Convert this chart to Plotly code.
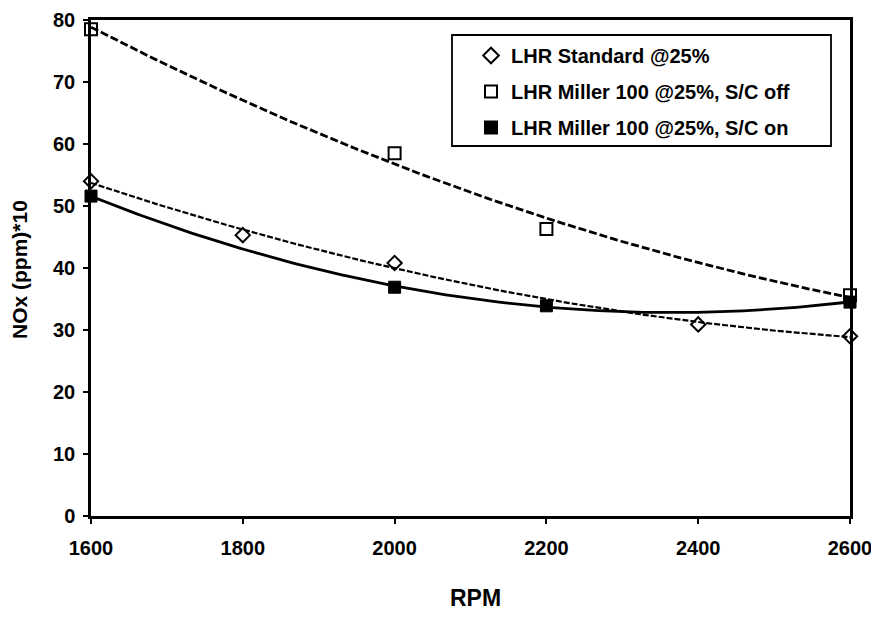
import numpy as np
import plotly.graph_objects as go

# Data
rpm_std = [1600, 1800, 2000, 2400, 2600]
nox_std = [54.0, 45.3, 40.8, 30.9, 29.0]

rpm_off = [1600, 2000, 2200, 2600]
nox_off = [78.5, 58.5, 46.3, 35.6]

rpm_on = [1600, 2000, 2200, 2600]
nox_on = [51.6, 36.9, 33.9, 34.5]

names = ["LHR Standard @25%", "LHR Miller 100 @25%, S/C off", "LHR Miller 100 @25%, S/C on"]
x_ticks = [1600, 1800, 2000, 2200, 2400, 2600]
y_ticks = [0, 10, 20, 30, 40, 50, 60, 70, 80]

fig = go.Figure()

# 2nd-order polynomial trend lines (as in the original spreadsheet chart)
xs = np.linspace(1600, 2600, 200)
for xd, yd, dash, w in [(rpm_off, nox_off, "8px,3px", 2.8),
                        (rpm_std, nox_std, "6px,2px", 2.2),
                        (rpm_on, nox_on, "solid", 2.8)]:
    c = np.polyfit(xd, yd, 2)
    fig.add_trace(go.Scatter(x=xs, y=np.polyval(c, xs), mode="lines",
                             line=dict(color="black", width=w, dash=dash),
                             showlegend=False, hoverinfo="skip", cliponaxis=False))

fig.add_trace(go.Scatter(x=rpm_std, y=nox_std, mode="markers", name=names[0],
                         legendgroup="a", cliponaxis=False,
                         marker=dict(symbol="diamond-open", size=11, color="black",
                                     line=dict(width=2, color="black"))))
fig.add_trace(go.Scatter(x=rpm_off, y=nox_off, mode="markers", name=names[1],
                         legendgroup="b", cliponaxis=False,
                         marker=dict(symbol="square-open", size=12, color="black",
                                     line=dict(width=2, color="black"))))
fig.add_trace(go.Scatter(x=rpm_on, y=nox_on, mode="markers", name=names[2],
                         legendgroup="c", cliponaxis=False,
                         marker=dict(symbol="square", size=12, color="black",
                                     line=dict(width=1, color="black"))))

font = "Liberation Sans, Arial, sans-serif"
OFF = 8  # page body margin
W, H = 879 - OFF, 618 - OFF
L = 91 - OFF
T = 20 - OFF
R = W - (850 - OFF)
B = H - (516 - OFF)
pw, ph = W - L - R, H - T - B

def px2x(p):
    return (p - OFF - L) / pw

def px2y(p):
    return (H - B - (p - OFF)) / ph

fig.add_shape(type="rect", xref="paper", yref="paper",
              x0=px2x(452), x1=px2x(831), y0=px2y(146), y1=px2y(35),
              line=dict(color="black", width=1.8), fillcolor="white", layer="below")

fig.add_annotation(text="<b>RPM</b>", xref="paper", yref="paper",
                   x=px2x(475), y=px2y(598), showarrow=False,
                   xanchor="center", yanchor="middle",
                   font=dict(size=23, family="Liberation Sans Narrow, Arial Narrow, sans-serif"))
fig.add_annotation(text="<b>NOx (ppm)*10</b>", xref="paper", yref="paper",
                   x=px2x(19), y=px2y(270), showarrow=False, textangle=-90,
                   xanchor="center", yanchor="middle",
                   font=dict(size=21, family=font))

fig.update_layout(
    width=W, height=H,
    margin=dict(l=L, r=R, t=T, b=B),
    paper_bgcolor="white", plot_bgcolor="rgba(0,0,0,0)",
    font=dict(family=font, size=20, color="black"),
    legend=dict(x=px2x(471), y=px2y(36), xanchor="left", yanchor="top",
                borderwidth=0, bgcolor="rgba(0,0,0,0)",
                font=dict(size=20, family=font, weight="bold"), tracegroupgap=7,
                itemsizing="constant", itemwidth=30),
    xaxis=dict(range=[1600, 2600], tickvals=x_ticks, automargin=False,
               showgrid=False, zeroline=False, showline=True, linecolor="black",
               linewidth=2.5, mirror=True, ticks="outside", ticklen=5,
               tickcolor="black", tickwidth=1.5, ticklabelstandoff=7,
               tickfont=dict(size=20, family=font, weight="bold")),
    yaxis=dict(range=[0, 80], tickvals=y_ticks, automargin=False,
               showgrid=False, zeroline=False, showline=True, linecolor="black",
               linewidth=2.5, mirror=True, ticks="outside", ticklen=5,
               tickcolor="black", tickwidth=1.5, ticklabelstandoff=4,
               tickfont=dict(size=20, family=font, weight="bold")),
)

fig.write_html("out.html")
